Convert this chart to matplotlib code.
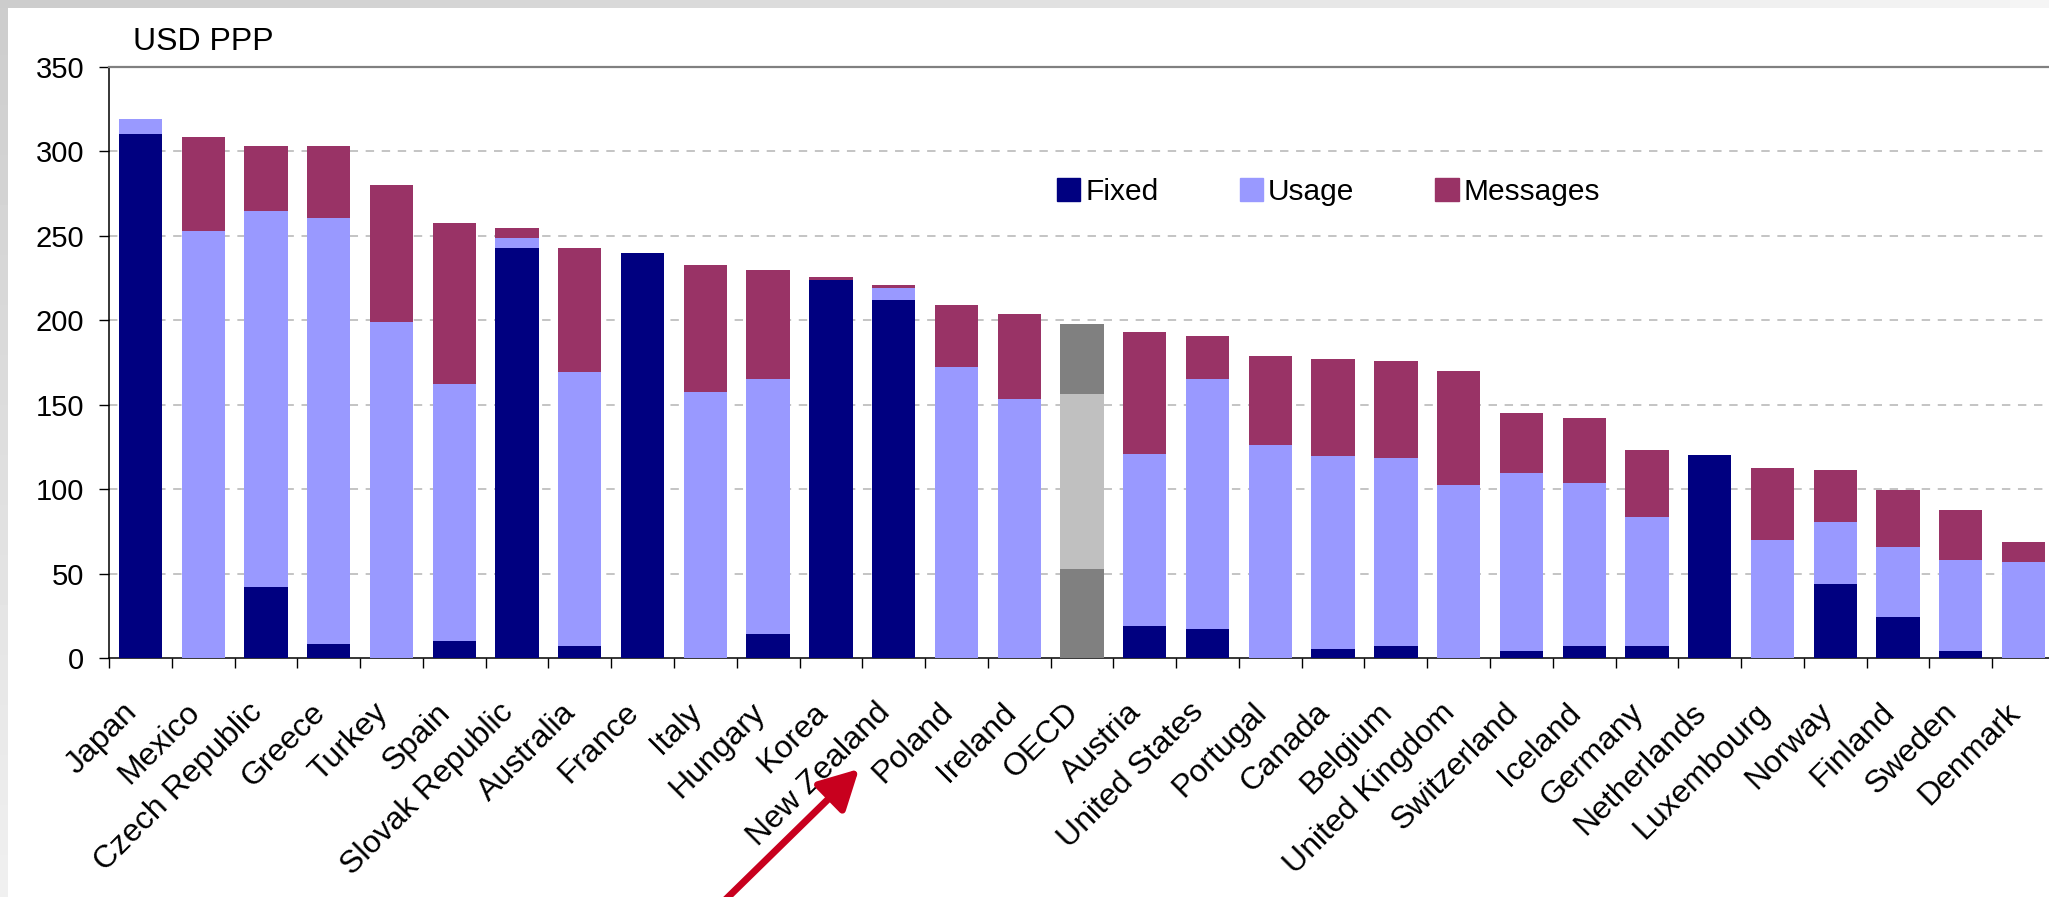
import numpy as np
import matplotlib
matplotlib.use('Agg')
import matplotlib.pyplot as plt
from matplotlib.transforms import ScaledTranslation

plt.rcParams['font.family'] = ['Liberation Sans', 'DejaVu Sans']

#%%
countries = ['Japan', 'Mexico', 'Czech Republic', 'Greece', 'Turkey', 'Spain',
             'Slovak Republic', 'Australia', 'France', 'Italy', 'Hungary', 'Korea',
             'New Zealand', 'Poland', 'Ireland', 'OECD', 'Austria', 'United States',
             'Portugal', 'Canada', 'Belgium', 'United Kingdom', 'Switzerland',
             'Iceland', 'Germany', 'Netherlands', 'Luxembourg', 'Norway', 'Finland',
             'Sweden', 'Denmark']
fixed = [310.5, 0, 41.9, 8.2, 0, 10.0, 242.9, 6.9, 240.0, 0, 14.1, 223.9,
         212.0, 0, 0, 52.7, 19.0, 17.2, 0, 5.1, 6.9, 0, 4.1, 6.9, 6.9, 120.3,
         0, 43.7, 24.2, 4.1, 0]
usage = [9.0, 252.9, 222.8, 252.4, 199.2, 152.4, 5.9, 162.5, 0, 157.5, 151.2, 0,
         7.2, 172.4, 153.4, 103.6, 101.8, 148.1, 126.2, 114.7, 111.6, 102.5,
         105.4, 96.7, 76.6, 0, 69.9, 36.7, 41.6, 54.0, 56.8]
messages = [0, 55.8, 38.6, 42.7, 80.9, 95.4, 5.9, 73.5, 0, 75.3, 64.5, 1.7,
            1.8, 36.8, 50.4, 41.6, 72.2, 25.4, 52.7, 57.3, 57.5, 67.6, 35.7,
            38.5, 39.6, 0, 42.7, 30.9, 33.7, 29.5, 11.8]
yticks = [0, 50, 100, 150, 200, 250, 300, 350]

#%%
c_fixed, c_usage, c_msg = '#000080', '#9999FF', '#993366'
# OECD average is drawn in greys
col_f = ['#808080' if c == 'OECD' else c_fixed for c in countries]
col_u = ['#C0C0C0' if c == 'OECD' else c_usage for c in countries]
col_m = ['#808080' if c == 'OECD' else c_msg for c in countries]

W, H = 2049, 897
fig = plt.figure(figsize=(W / 100, H / 100), dpi=100)
fig.set_facecolor('white')

# slide-like grey edge on top and left
bg = fig.add_axes([0, 0, 1, 1], zorder=-5)
img = np.ones((H, W))
img[:8, :] = np.linspace(0.80, 0.96, W)[None, :]
img[:, :8] = np.minimum(img[:, :8], np.linspace(0.80, 0.94, H)[:, None])
bg.imshow(img, cmap='gray', vmin=0, vmax=1, aspect='auto', interpolation='nearest')
bg.axis('off')

# plot area runs past the right edge, like the cropped original
left, right, top, bottom = 109, 2055, 67, 658
ax = fig.add_axes([left / W, (H - bottom) / H, (right - left) / W, (bottom - top) / H])

x = np.arange(len(countries))
fixed = np.array(fixed)
usage = np.array(usage)
messages = np.array(messages)
bw = 0.69
ax.bar(x, fixed, bw, color=col_f, zorder=3)
ax.bar(x, usage, bw, bottom=fixed, color=col_u, zorder=3)
ax.bar(x, messages, bw, bottom=fixed + usage, color=col_m, zorder=3)

ax.set_xlim(-0.5, len(countries) - 0.5)
ax.set_ylim(0, 350)
ax.set_yticks(yticks)
ax.tick_params(axis='y', direction='out', length=7.2, width=1, pad=10.5,
               labelsize=21)
for v in yticks[1:-1]:
    ax.axhline(v, color='#b4b4b4', lw=1.1, dashes=(5.5, 5), zorder=1)

ax.set_xticks(x)
ax.set_xticklabels(countries, rotation=45, ha='right', va='center',
                   rotation_mode='anchor', fontsize=23)
ax.tick_params(axis='x', which='major', length=0, pad=36)
ax.set_xticks(np.arange(-0.5, len(countries)), minor=True)
ax.tick_params(axis='x', which='minor', direction='out', length=7.2, width=1)
shift = ScaledTranslation(-8 / 100, 0, fig.dpi_scale_trans)
for lab in ax.get_xticklabels():
    lab.set_transform(lab.get_transform() + shift)

ax.spines['top'].set_color('#808080')
ax.spines['top'].set_linewidth(1.6)
ax.spines['left'].set_linewidth(1.1)
ax.spines['bottom'].set_linewidth(1.1)
ax.spines['right'].set_visible(False)

fig.text(133 / W, 1 - 50 / H, 'USD PPP', fontsize=23, ha='left', va='baseline')

fig.legend([plt.Rectangle((0, 0), 1, 1, color=c) for c in (c_fixed, c_usage, c_msg)],
           ['Fixed', 'Usage', 'Messages'], loc='center left',
           bbox_to_anchor=(1057 / W, 1 - 192 / H), ncol=3, frameon=False,
           fontsize=21.5, handlelength=0.78, handleheight=0.78,
           handletextpad=0.18, columnspacing=2.7, borderpad=0,
           borderaxespad=0)

# red arrow pointing at Poland
fig.add_artist(plt.Annotation('', xy=(859, H - 769), xytext=(720, -8),
                              xycoords='figure pixels', textcoords='figure pixels',
                              arrowprops=dict(arrowstyle='-|>,head_length=0.6,head_width=0.32',
                                              mutation_scale=40, lw=5,
                                              color='#C8001E', shrinkA=0, shrinkB=0)))

plt.savefig('out.png', dpi=100)
